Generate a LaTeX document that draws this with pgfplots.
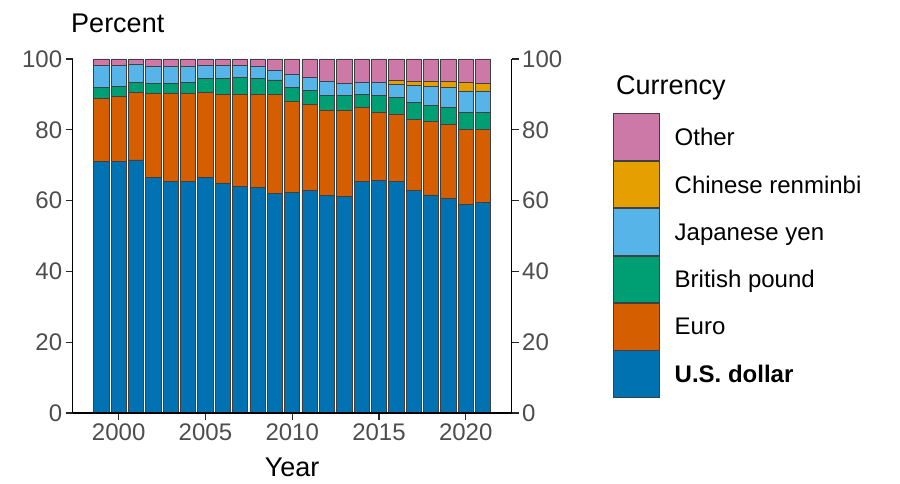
\documentclass[border=0pt]{standalone}
\usepackage{pgfplots}
\pgfplotsset{compat=1.18}
\usepackage{pgfplotstable}
\usepackage{fontspec}
\setmainfont{Liberation Sans}
\definecolor{cUSD}{HTML}{0072B2}
\definecolor{cEUR}{HTML}{D55E00}
\definecolor{cGBP}{HTML}{009E73}
\definecolor{cJPY}{HTML}{56B4E9}
\definecolor{cCNY}{HTML}{E69F00}
\definecolor{cOTH}{HTML}{CC79A7}
\definecolor{tickgrey}{HTML}{4D4D4D}
\pgfplotstableread{
year USD EUR GBP JPY CNY OTH
1999 71.0 17.9 3.0 6.2 0 1.9
2000 71.1 18.3 2.8 5.9 0 1.9
2001 71.5 19.1 2.8 5.2 0 1.4
2002 66.5 23.7 2.9 4.9 0 2.0
2003 65.4 25.0 2.8 4.6 0 2.2
2004 65.5 24.8 3.2 4.4 0 2.1
2005 66.5 24.0 3.9 3.7 0 1.9
2006 65.0 25.0 4.4 3.7 0 1.9
2007 63.9 26.2 4.6 3.4 0 1.9
2008 63.8 26.2 4.4 3.4 0 2.2
2009 62.1 27.8 4.2 2.8 0 3.1
2010 62.2 25.7 4.1 3.8 0 4.2
2011 62.8 24.4 4.0 3.5 0 5.3
2012 61.5 24.1 4.0 4.2 0 6.2
2013 61.2 24.2 4.2 3.5 0 6.9
2014 65.3 21.0 3.8 3.3 0 6.6
2015 65.8 19.1 4.9 3.6 0 6.6
2016 65.5 19.0 4.6 3.7 1.1 6.1
2017 62.8 20.2 4.7 4.8 1.3 6.2
2018 61.6 20.7 4.7 5.2 1.6 6.2
2019 60.7 20.7 4.8 5.8 1.8 6.2
2020 59.0 21.2 4.7 6.1 2.3 6.7
2021 59.5 20.5 4.9 6.1 2.1 6.9
}\datatable
\begin{document}
\begin{tikzpicture}
\useasboundingbox (-72.7pt,-71pt) rectangle (827.3pt,413pt);
\begin{axis}[
  at={(0,0)}, anchor=south west,
  width=439pt, height=354pt, scale only axis,
  xmin=1997.35, xmax=2022.65, ymin=0, ymax=100,
  ybar stacked, bar width=15.2pt,
  axis x line*=bottom, axis y line*=left,
  axis line style={line width=1.3pt, black, -},
  every outer x axis line/.append style={-},
  every outer y axis line/.append style={-},
  tick style={line width=1.1pt, black!85},
  tick align=outside, major tick length=7pt,
  xtick={2000,2005,...,2020}, ytick={0,20,...,100},
  minor tick num=0,
  /pgf/number format/assume math mode=true,
  /pgf/number format/1000 sep={},
  tick label style={font=\fontsize{24}{28}\selectfont, text=tickgrey},
  axis on top,
  xlabel={Year}, ylabel={Percent},
  every axis x label/.style={at={(axis description cs:0.5,0)}, anchor=center, yshift=-54pt, font=\fontsize{27}{31}\selectfont},
  every axis y label/.style={at={(axis description cs:0,1)}, anchor=west, xshift=-5pt, yshift=36pt, font=\fontsize{27}{31}\selectfont},
  legend style={at={(1.2301,0.8466)}, anchor=north west, draw=none, fill=none,
    inner sep=0pt, outer sep=0pt, row sep=0pt, column sep=14.6pt,
    nodes={inner sep=0pt, font=\fontsize{24}{28}\selectfont}},
  legend cell align=left,
  reverse legend,
  every axis plot post/.append style={
    legend image code/.code={\draw[#1, draw=black!75, line width=0.7pt] (0pt,-22.5pt) rectangle (46.7pt,24.2pt);}},
  every axis plot/.append style={draw=black!75, line width=0.7pt},
]
\addplot[fill=cUSD] table[x=year, y=USD] {\datatable};
\addlegendentry{\textbf{U.S. dollar}}
\addplot[fill=cEUR] table[x=year, y=EUR] {\datatable};
\addlegendentry{Euro}
\addplot[fill=cGBP] table[x=year, y=GBP] {\datatable};
\addlegendentry{British pound}
\addplot[fill=cJPY] table[x=year, y=JPY] {\datatable};
\addlegendentry{Japanese yen}
\addplot[fill=cCNY] table[x=year, y=CNY] {\datatable};
\addlegendentry{Chinese renminbi}
\addplot[fill=cOTH] table[x=year, y=OTH] {\datatable};
\addlegendentry{Other}
\end{axis}
\begin{axis}[
  at={(0,0)}, anchor=south west,
  width=439pt, height=354pt, scale only axis,
  xmin=1997.35, xmax=2022.65, ymin=0, ymax=100,
  axis x line=none, axis y line*=right,
  axis line style={line width=1.3pt, black, -},
  tick style={line width=1.1pt, black!85},
  tick align=outside, major tick length=7pt,
  ytick={0,20,...,100}, minor tick num=0,
  /pgf/number format/assume math mode=true,
  tick label style={font=\fontsize{24}{28}\selectfont, text=tickgrey},
]
\end{axis}
\node[anchor=west, font=\fontsize{27}{31}\selectfont] at (540pt,324.7pt) {Currency};
\end{tikzpicture}
\end{document}
